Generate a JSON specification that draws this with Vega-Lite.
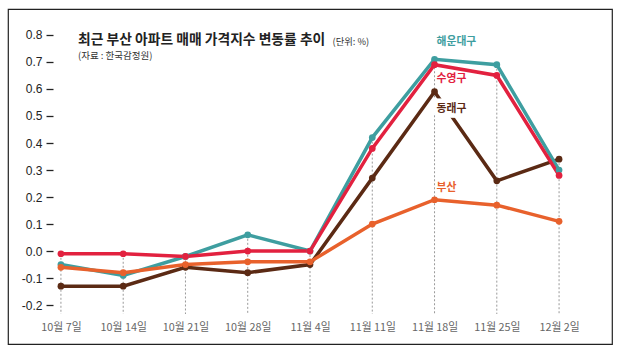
{
  "$schema": "https://vega.github.io/schema/vega-lite/v6.json",
  "width": 604,
  "height": 335,
  "autosize": {"type": "none"},
  "padding": {"left": 8, "top": 9, "right": 8, "bottom": 11},
  "background": "white",
  "config": {
    "view": {"stroke": "#222", "strokeWidth": 1.2},
    "font": "Noto Sans CJK KR"
  },
  "title": {
    "text": "최근 부산 아파트 매매 가격지수 변동률 추이",
    "subtitle": "(자료 : 한국감정원)",
    "anchor": "start",
    "frame": "group",
    "dx": 70,
    "offset": -51,
    "font": "Noto Sans CJK KR",
    "fontSize": 13.8,
    "fontWeight": "bold",
    "color": "#222",
    "subtitleFont": "Noto Sans CJK KR",
    "subtitleFontSize": 9.5,
    "subtitleColor": "#333",
    "subtitlePadding": 4
  },
  "data": {
    "values": [
      {"date": "10월 7일", "series": "동래구", "value": -0.13},
      {"date": "10월 14일", "series": "동래구", "value": -0.13},
      {"date": "10월 21일", "series": "동래구", "value": -0.06},
      {"date": "10월 28일", "series": "동래구", "value": -0.08},
      {"date": "11월 4일", "series": "동래구", "value": -0.05},
      {"date": "11월 11일", "series": "동래구", "value": 0.27},
      {"date": "11월 18일", "series": "동래구", "value": 0.59},
      {"date": "11월 25일", "series": "동래구", "value": 0.26},
      {"date": "12월 2일", "series": "동래구", "value": 0.34},
      {"date": "10월 7일", "series": "해운대구", "value": -0.05},
      {"date": "10월 14일", "series": "해운대구", "value": -0.09},
      {"date": "10월 21일", "series": "해운대구", "value": -0.02},
      {"date": "10월 28일", "series": "해운대구", "value": 0.06},
      {"date": "11월 4일", "series": "해운대구", "value": 0.0},
      {"date": "11월 11일", "series": "해운대구", "value": 0.42},
      {"date": "11월 18일", "series": "해운대구", "value": 0.71},
      {"date": "11월 25일", "series": "해운대구", "value": 0.69},
      {"date": "12월 2일", "series": "해운대구", "value": 0.30},
      {"date": "10월 7일", "series": "수영구", "value": -0.01},
      {"date": "10월 14일", "series": "수영구", "value": -0.01},
      {"date": "10월 21일", "series": "수영구", "value": -0.02},
      {"date": "10월 28일", "series": "수영구", "value": 0.0},
      {"date": "11월 4일", "series": "수영구", "value": 0.0},
      {"date": "11월 11일", "series": "수영구", "value": 0.38},
      {"date": "11월 18일", "series": "수영구", "value": 0.69},
      {"date": "11월 25일", "series": "수영구", "value": 0.65},
      {"date": "12월 2일", "series": "수영구", "value": 0.28},
      {"date": "10월 7일", "series": "부산", "value": -0.06},
      {"date": "10월 14일", "series": "부산", "value": -0.08},
      {"date": "10월 21일", "series": "부산", "value": -0.05},
      {"date": "10월 28일", "series": "부산", "value": -0.04},
      {"date": "11월 4일", "series": "부산", "value": -0.04},
      {"date": "11월 11일", "series": "부산", "value": 0.10},
      {"date": "11월 18일", "series": "부산", "value": 0.19},
      {"date": "11월 25일", "series": "부산", "value": 0.17},
      {"date": "12월 2일", "series": "부산", "value": 0.11}
    ]
  },
  "encoding": {
    "x": {
      "field": "date",
      "type": "ordinal",
      "sort": ["10월 7일", "10월 14일", "10월 21일", "10월 28일", "11월 4일", "11월 11일", "11월 18일", "11월 25일", "12월 2일"],
      "scale": {"type": "point", "padding": 0.85},
      "axis": {
        "title": null,
        "orient": "bottom",
        "offset": -23,
        "ticks": false,
        "domain": false,
        "grid": false,
        "labelAngle": 0,
        "labelPadding": 0,
        "labelFontSize": 10.8,
        "labelColor": "#666",
        "labelFont": "Noto Sans CJK KR"
      }
    }
  },
  "layer": [
    {
      "mark": {"type": "rule", "strokeDash": [2, 2], "color": "#999", "strokeWidth": 1},
      "encoding": {
        "y": {
          "aggregate": "max",
          "field": "value",
          "type": "quantitative",
          "scale": {"domain": [-0.344, 0.896], "nice": false, "zero": false},
          "axis": {
            "values": [-0.2, -0.1, 0, 0.1, 0.2, 0.3, 0.4, 0.5, 0.6, 0.7, 0.8],
            "tickCount": 11,
            "labelOverlap": false,
            "labelExpr": "replace(format(datum.value, '.1f'), '−', '-')",
            "grid": false,
            "domain": false,
            "offset": -45,
            "tickSize": 7,
            "tickColor": "#222",
            "tickWidth": 1.3,
            "labelFont": "Liberation Sans",
            "labelFontSize": 12,
            "labelColor": "#222",
            "labelPadding": 4,
            "title": "(단위: %)",
            "titleAngle": 0,
            "titleX": 279,
            "titleY": 32,
            "titleAlign": "left",
            "titleBaseline": "middle",
            "titleFont": "Noto Sans CJK KR",
            "titleFontSize": 9.3,
            "titleFontWeight": "normal",
            "titleColor": "#333"
          }
        },
        "y2": {"datum": -0.233}
      }
    },
    {
      "mark": {"type": "line", "strokeWidth": 3.5},
      "encoding": {
        "y": {"field": "value", "type": "quantitative"},
        "color": {
          "field": "series",
          "type": "nominal",
          "scale": {"domain": ["동래구", "해운대구", "수영구", "부산"], "range": ["#5b2a14", "#3e9ea0", "#e2213f", "#e8612c"]},
          "legend": null
        }
      }
    },
    {
      "mark": {"type": "point", "filled": true, "size": 45, "opacity": 1},
      "encoding": {
        "y": {"field": "value", "type": "quantitative"},
        "color": {"field": "series", "type": "nominal", "legend": null}
      }
    },
    {
      "transform": [{"filter": "datum.series == '해운대구' && datum.date == '11월 18일'"}],
      "mark": {"type": "text", "align": "left", "baseline": "middle", "dx": 2, "dy": -17, "fontSize": 10.8, "fontWeight": "bold", "color": "#3e9ea0"},
      "encoding": {"y": {"field": "value", "type": "quantitative"}, "text": {"field": "series"}}
    },
    {
      "transform": [{"filter": "datum.series == '수영구' && datum.date == '11월 18일'"}],
      "mark": {"type": "text", "align": "left", "baseline": "middle", "dx": 2, "dy": 14, "fontSize": 10.8, "fontWeight": "bold", "color": "#e2213f"},
      "encoding": {"y": {"field": "value", "type": "quantitative"}, "text": {"field": "series"}}
    },
    {
      "transform": [{"filter": "datum.series == '동래구' && datum.date == '11월 18일'"}],
      "mark": {"type": "text", "align": "left", "baseline": "middle", "dx": 2, "dy": 17, "fontSize": 10.8, "fontWeight": "bold", "color": "white", "stroke": "white", "strokeWidth": 9},
      "encoding": {"y": {"field": "value", "type": "quantitative"}, "text": {"field": "series"}}
    },
    {
      "transform": [{"filter": "datum.series == '동래구' && datum.date == '11월 18일'"}],
      "mark": {"type": "text", "align": "left", "baseline": "middle", "dx": 2, "dy": 17, "fontSize": 10.8, "fontWeight": "bold", "color": "#5b2a14"},
      "encoding": {"y": {"field": "value", "type": "quantitative"}, "text": {"field": "series"}}
    },
    {
      "transform": [{"filter": "datum.series == '부산' && datum.date == '11월 18일'"}],
      "mark": {"type": "text", "align": "left", "baseline": "middle", "dx": 2, "dy": -12, "fontSize": 10.8, "fontWeight": "bold", "color": "#e8612c"},
      "encoding": {"y": {"field": "value", "type": "quantitative"}, "text": {"field": "series"}}
    }
  ]
}
